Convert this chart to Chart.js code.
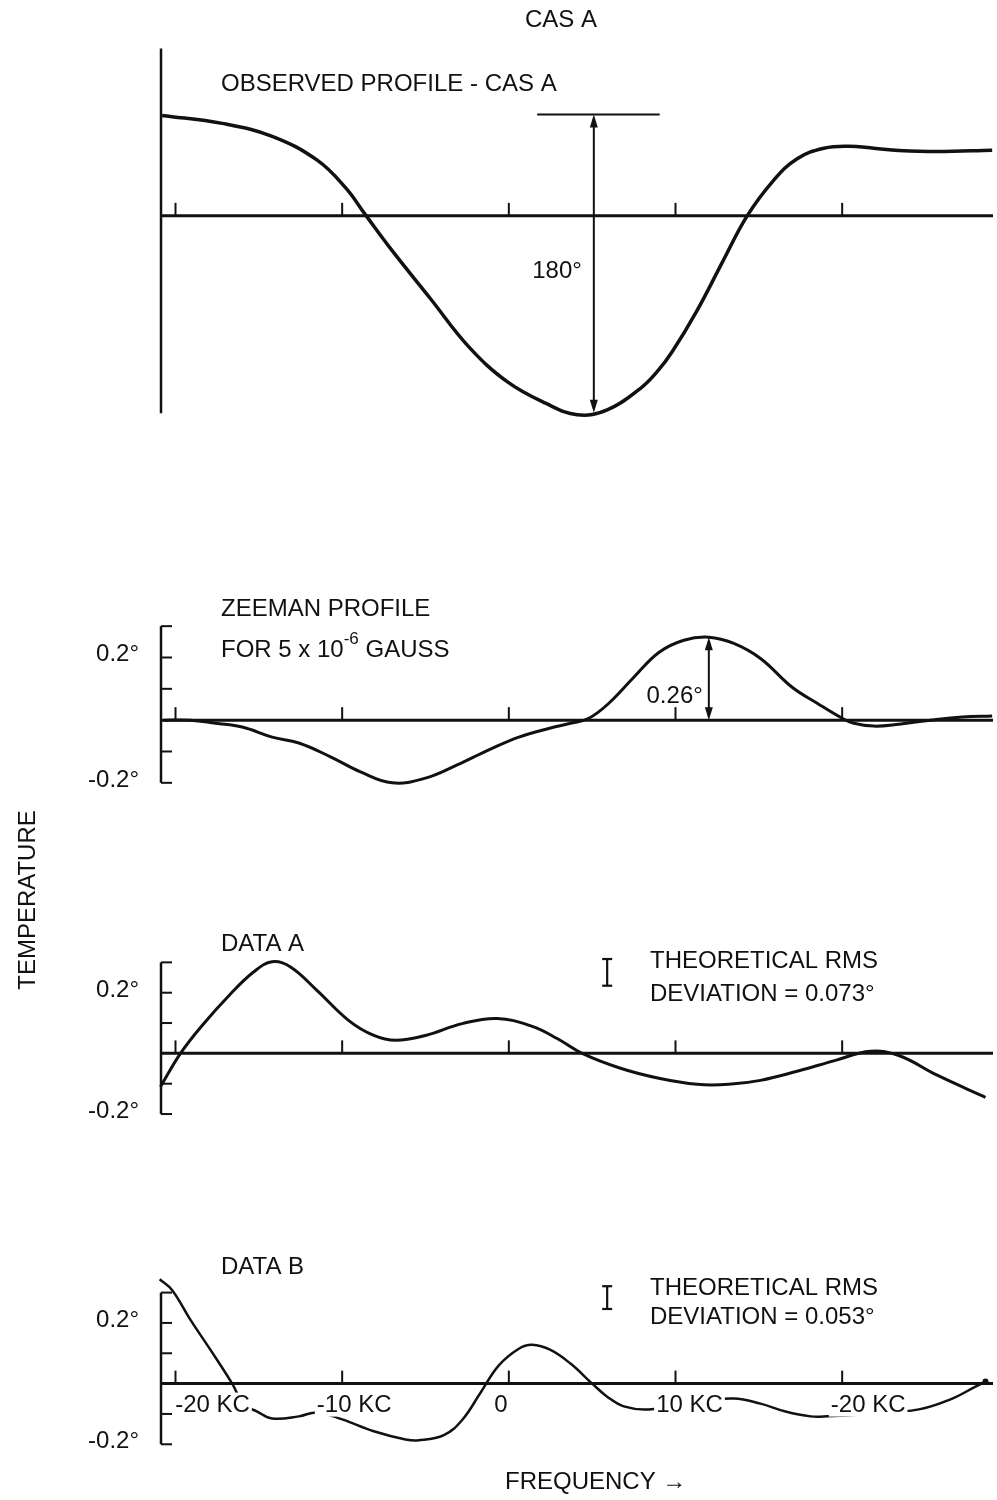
<!DOCTYPE html>
<html>
<head>
<meta charset="utf-8">
<script src="https://cdn.jsdelivr.net/npm/chart.js@4.4.1/dist/chart.umd.min.js"></script>
<style>
html, body { margin: 0; padding: 0; background: #fff; }
#caixa { position: relative; width: 997px; height: 1500px; }
</style>
</head>
<body>
<div id="caixa"><canvas id="grafico" width="997" height="1500"></canvas></div>
<script>
// frequencia em KC, temperatura em graus
const freqTicks = [-20, -10, 0, 10, 20];
const freqLabels = ["-20 KC", "-10 KC", "0", "10 KC", "-20 KC"];
const tempTicks = [0.3, 0.2, 0.1, -0.1, -0.2];
const tempLabels = ["0.2°", "-0.2°"];
const tempLabelValues = [0.2, -0.2];

// perfil observado (escala da seta de 180)
const casFreq = [-20.8, -17.2, -14.2, -11.5, -9.8, -8.6, -7.0, -4.7, -2.4, -0.1, 2.2, 4.1, 5.9, 7.9, 8.9, 9.8, 11.3, 12.8, 14.3, 15.9, 17.3, 18.9, 20.4, 21.9, 23.4, 25.7, 29.0];
const casTemp = [60.6, 55.8, 48, 33.6, 17, 0.6, -21, -50, -79, -100, -113, -120, -117, -104, -94, -82, -57, -28.2, 0, 21.6, 34.5, 40.8, 42, 40.8, 39.5, 38.8, 39.6];

// perfil zeeman
const zeeFreq = [-20.7, -19.1, -17.6, -16.0, -14.2, -12.6, -10.7, -8.9, -7.0, -5.0, -3.1, -1.2, 0.6, 2.5, 3.7, 4.8, 6.0, 7.5, 9.0, 10.5, 12.0, 13.5, 15.1, 17.0, 18.5, 20.0, 20.7, 21.9, 23.4, 25.3, 27.2, 29.0];
const zeeTemp = [0, 0, -0.01, -0.022, -0.054, -0.073, -0.117, -0.165, -0.2, -0.185, -0.143, -0.095, -0.054, -0.025, -0.01, 0.006, 0.054, 0.137, 0.216, 0.255, 0.265, 0.245, 0.197, 0.105, 0.054, 0.006, -0.01, -0.019, -0.013, 0, 0.01, 0.013];

// data A
const dataAFreq = [-20.9, -19.7, -18.4, -16.8, -15.3, -14.2, -13.1, -11.5, -9.6, -8.1, -6.8, -5.0, -2.8, -0.7, 1.4, 2.9, 4.4, 6.7, 9.0, 11.3, 13.2, 15.1, 17.3, 19.6, 21.7, 23.4, 25.7, 28.6];
const dataATemp = [-0.11, 0, 0.092, 0.19, 0.269, 0.302, 0.285, 0.207, 0.108, 0.059, 0.043, 0.059, 0.098, 0.115, 0.089, 0.049, 0, -0.049, -0.082, -0.102, -0.102, -0.089, -0.059, -0.023, 0.007, -0.007, -0.072, -0.145];

// data B
const dataBFreq = [-20.95, -20.2, -19.1, -17.9, -16.6, -15.9, -15.1, -14.2, -12.6, -11.5, -10.0, -8.1, -6.2, -5.4, -3.9, -2.8, -1.7, -0.6, 0.6, 1.4, 2.5, 3.7, 5.0, 5.9, 6.9, 8.4, 11.0, 13.5, 15.1, 16.6, 18.1, 19.1, 21.5, 24.6, 26.5, 28.0, 28.6];
const dataBTemp = [0.344, 0.308, 0.21, 0.111, 0, -0.069, -0.092, -0.115, -0.108, -0.095, -0.118, -0.157, -0.184, -0.187, -0.17, -0.12, -0.03, 0.06, 0.115, 0.128, 0.111, 0.066, 0, -0.043, -0.075, -0.085, -0.06, -0.049, -0.066, -0.092, -0.108, -0.108, -0.1, -0.085, -0.052, -0.01, 0.007];

// anotacoes
const casArrow = { freq: 5.1, de: -118.8, ate: 61.2, barraDe: 1.7, barraAte: 9.05 };
const zeeArrow = { freq: 12.0, de: 0, ate: 0.265 };
const rmsA = { freq: 5.9, de: 0.223, ate: 0.311 };
const rmsB = { freq: 5.9, de: 0.246, ate: 0.321 };

// layout de cada painel: linha do zero (px) e px por unidade
const paineis = [
    { eixo: "yCas", zero: 213, escala: 300 / 180 },
    { eixo: "yZee", zero: 720, escala: 315 },
    { eixo: "yA", zero: 1055, escala: 305 },
    { eixo: "yB", zero: 1387, escala: 305 }
];
const ALTURA = 1500;
const FONTE = '"Liberation Sans", Arial, sans-serif';

function pontos(xs, ys) {
    return xs.map((x, i) => ({ x: x, y: ys[i] }));
}

function escreve(ctx, partes, x, y, alinhar) {
    // partes: [texto, sobrescrito?]
    let largura = 0;
    partes.forEach(([t, sup]) => {
        ctx.font = (sup ? "17px " : "24px ") + FONTE;
        largura += ctx.measureText(t).width;
    });
    let px = x;
    if (alinhar === "right") px = x - largura;
    if (alinhar === "center") px = x - largura / 2;
    ctx.textBaseline = "alphabetic";
    ctx.textAlign = "left";
    partes.forEach(([t, sup]) => {
        ctx.font = (sup ? "17px " : "24px ") + FONTE;
        ctx.fillText(t, px, sup ? y - 13 : y);
        px += ctx.measureText(t).width;
    });
    return largura;
}

function linha(ctx, x1, y1, x2, y2, w) {
    ctx.lineWidth = w;
    ctx.beginPath();
    ctx.moveTo(x1, y1);
    ctx.lineTo(x2, y2);
    ctx.stroke();
}

function ponta(ctx, x, y, dir) {
    ctx.beginPath();
    ctx.moveTo(x, y);
    ctx.lineTo(x - 4, y + dir * 13);
    ctx.lineTo(x + 4, y + dir * 13);
    ctx.closePath();
    ctx.fill();
}

function seta(ctx, x, yTopo, yBase) {
    linha(ctx, x, yTopo + 4, x, yBase - 4, 2);
    ponta(ctx, x, yTopo, 1);
    ponta(ctx, x, yBase, -1);
}

function errobar(ctx, x, y1, y2) {
    linha(ctx, x, y1, x, y2, 2.2);
    linha(ctx, x - 5, y1, x + 5, y1, 2.2);
    linha(ctx, x - 5, y2, x + 5, y2, 2.2);
}

const desenho = {
    id: "desenho",
    beforeDatasetsDraw(chart) {
        const ctx = chart.ctx;
        const xs = chart.scales.x;
        const area = chart.chartArea;
        ctx.save();
        ctx.strokeStyle = "#111";
        ctx.fillStyle = "#111";
        paineis.forEach(p => {
            const ys = chart.scales[p.eixo];
            const y0 = ys.getPixelForValue(0);
            linha(ctx, area.left, y0, area.right, y0, 3);
            freqTicks.forEach(t => {
                const x = xs.getPixelForValue(t);
                linha(ctx, x, y0, x, y0 - 13, 2);
            });
        });
        // eixo vertical do painel CAS A
        const yc = chart.scales.yCas;
        linha(ctx, area.left + 1, yc.getPixelForValue(101), area.left + 1, yc.getPixelForValue(-119), 2.5);
        ctx.restore();
    },
    afterDatasetsDraw(chart) {
        const ctx = chart.ctx;
        const xs = chart.scales.x;
        const area = chart.chartArea;
        const yc = chart.scales.yCas, yz = chart.scales.yZee, ya = chart.scales.yA, yb = chart.scales.yB;
        ctx.save();
        ctx.strokeStyle = "#111";
        ctx.fillStyle = "#111";

        // rotulos de frequencia do painel B, com fundo branco
        const offsets = [37, 12, -8, 14, 26];
        const yb0 = yb.getPixelForValue(0);
        freqTicks.forEach((t, i) => {
            ctx.font = "24px " + FONTE;
            const w = ctx.measureText(freqLabels[i]).width;
            const cx = xs.getPixelForValue(t) + offsets[i];
            ctx.fillStyle = "#fff";
            ctx.fillRect(cx - w / 2 - 2, yb0 + 9, w + 4, 24);
            ctx.fillStyle = "#111";
            escreve(ctx, [[freqLabels[i], false]], cx, yb0 + 28, "center");
        });

        // colchetes de temperatura
        [yz, ya, yb].forEach(ys => {
            const x = area.left + 1;
            linha(ctx, x, ys.getPixelForValue(0.3), x, ys.getPixelForValue(-0.2), 2.5);
            tempTicks.forEach(v => {
                const y = ys.getPixelForValue(v);
                linha(ctx, x, y, x + 11, y, 2);
            });
            tempLabelValues.forEach((v, i) => {
                escreve(ctx, [[tempLabels[i], false]], 139, ys.getPixelForValue(v) + 4, "right");
            });
        });

        // painel CAS A
        const xa = xs.getPixelForValue(casArrow.freq);
        seta(ctx, xa, yc.getPixelForValue(casArrow.ate), yc.getPixelForValue(casArrow.de));
        linha(ctx, xs.getPixelForValue(casArrow.barraDe), yc.getPixelForValue(casArrow.ate),
            xs.getPixelForValue(casArrow.barraAte), yc.getPixelForValue(casArrow.ate), 2);
        escreve(ctx, [["180°", false]], xa - 12, yc.getPixelForValue(-32) + 9, "right");

        // painel Zeeman
        const xz = xs.getPixelForValue(zeeArrow.freq);
        seta(ctx, xz, yz.getPixelForValue(zeeArrow.ate), yz.getPixelForValue(zeeArrow.de));
        escreve(ctx, [["0.26°", false]], xz - 6, yz.getPixelForValue(0.083) + 9, "right");

        // barras de desvio RMS
        [[rmsA, ya], [rmsB, yb]].forEach(([r, ys]) => {
            errobar(ctx, xs.getPixelForValue(r.freq), ys.getPixelForValue(r.ate), ys.getPixelForValue(r.de));
        });

        // titulos
        escreve(ctx, [["CAS A", false]], 561, 27, "center");
        escreve(ctx, [["OBSERVED PROFILE - CAS A", false]], 221, 91);
        escreve(ctx, [["ZEEMAN PROFILE", false]], 221, 616);
        escreve(ctx, [["FOR 5 x 10", false], ["-6", true], [" GAUSS", false]], 221, 657);
        escreve(ctx, [["DATA A", false]], 221, 951);
        escreve(ctx, [["THEORETICAL RMS", false]], 650, 968);
        escreve(ctx, [["DEVIATION = 0.073°", false]], 650, 1001);
        escreve(ctx, [["DATA B", false]], 221, 1274);
        escreve(ctx, [["THEORETICAL RMS", false]], 650, 1295);
        escreve(ctx, [["DEVIATION = 0.053°", false]], 650, 1324);
        escreve(ctx, [["FREQUENCY →", false]], 505, 1489);

        ctx.translate(28, 900);
        ctx.rotate(-Math.PI / 2);
        ctx.font = "24px " + FONTE;
        ctx.textAlign = "center";
        ctx.textBaseline = "middle";
        ctx.fillText("TEMPERATURE", 0, 0);
        ctx.restore();
    }
};

function serie(xs, ys, eixo, largura) {
    return {
        data: pontos(xs, ys),
        yAxisID: eixo,
        borderColor: "#111",
        borderWidth: largura,
        pointRadius: 0,
        fill: false,
        tension: 0.4,
        clip: false
    };
}

const escalas = {
    x: { type: "linear", min: -20.93, max: 29.05, display: false }
};
paineis.forEach(p => {
    escalas[p.eixo] = {
        type: "linear",
        display: false,
        max: p.zero / p.escala,
        min: -(ALTURA - p.zero) / p.escala
    };
});

const serieB = serie(dataBFreq, dataBTemp, "yB", 2.5);
serieB.pointRadius = dataBFreq.map((f, i) => i === dataBFreq.length - 1 ? 3 : 0);
serieB.pointBackgroundColor = "#111";
serieB.pointBorderWidth = 0;

let ctx = document.getElementById("grafico").getContext("2d");
let grafico = new Chart(ctx, {
    type: "line",
    data: {
        datasets: [
            serie(casFreq, casTemp, "yCas", 3.5),
            serie(zeeFreq, zeeTemp, "yZee", 3),
            serie(dataAFreq, dataATemp, "yA", 3),
            serieB
        ]
    },
    options: {
        responsive: false,
        animation: false,
        devicePixelRatio: 1,
        layout: { padding: { left: 160, right: 0, top: 0, bottom: 0 } },
        plugins: { legend: { display: false }, tooltip: { enabled: false } },
        scales: escalas
    },
    plugins: [desenho]
});
</script>
</body>
</html>
